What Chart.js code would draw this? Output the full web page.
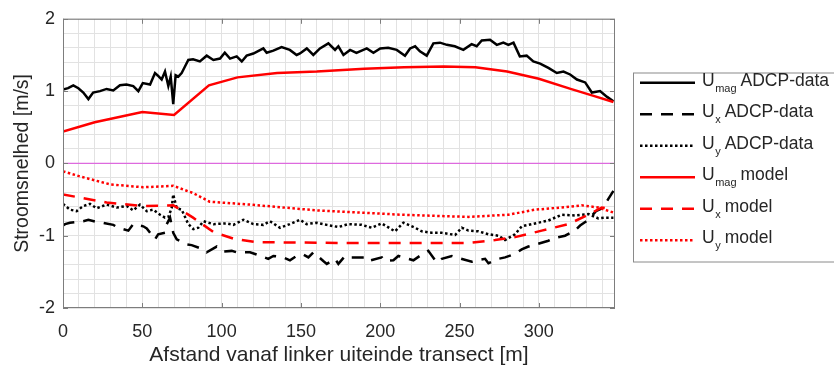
<!DOCTYPE html>
<html lang="nl">
<head>
    <meta charset="UTF-8">
    <title>Stroomsnelheden transect</title>
    <script src="https://cdn.jsdelivr.net/npm/chart.js"></script>
    <style>
        html, body {
            margin: 0;
            padding: 0;
            background: #ffffff;
        }
        #wrap {
            width: 834px;
            height: 369px;
        }
    </style>
</head>
<body>
    <div id="wrap">
        <canvas id="stroomChart" width="834" height="369"></canvas>
    </div>

    <script>
        // ADCP-metingen langs het transect (afstand in m, snelheid in m/s)
        const umagAdcpX = [0, 3.2, 6.5, 9.7, 12.8, 16, 19, 23.3, 27.5, 31.7, 35.9, 40, 44.3, 47.5, 50.3, 54.9,
            58, 60, 62.2, 64.3, 66.4, 67.9, 69.5, 71, 72.7, 74.8, 76.9, 79, 82, 86.3, 90.6, 94.8, 99, 102,
            105.3, 109.5, 112.7, 115.8, 120, 126.3, 128.4, 132.6, 137.8, 143, 147.3, 149.4, 153.7, 157.8,
            162, 167.3, 171.5, 173.6, 176.8, 181, 185, 191.5, 195.7, 200, 205, 210.4, 215.6, 218.8, 222,
            225, 229.3, 233.5, 237.7, 242, 247, 252.4, 257.6, 260.8, 264, 269.2, 273.5, 277.6, 280.8, 284,
            288, 292.3, 296.5, 300.8, 306, 311.3, 315.5, 319.7, 324, 329.2, 333.4, 338.6, 343, 347];
        const umagAdcp = [1.02, 1.04, 1.08, 1.04, 0.98, 0.89, 0.98, 1.0, 1.03, 1.01, 1.08, 1.09, 1.07, 1.0, 1.11, 1.09,
            1.25, 1.21, 1.16, 1.27, 1.07, 1.20, 0.82, 1.22, 1.2, 1.25, 1.34, 1.43, 1.44, 1.41, 1.49, 1.43, 1.45, 1.53,
            1.45, 1.48, 1.41, 1.49, 1.52, 1.59, 1.53, 1.56, 1.61, 1.57, 1.50, 1.52, 1.59, 1.50,
            1.59, 1.66, 1.57, 1.62, 1.50, 1.57, 1.53, 1.59, 1.53, 1.59, 1.60, 1.57, 1.49, 1.59, 1.62,
            1.55, 1.49, 1.66, 1.67, 1.64, 1.62, 1.57, 1.65, 1.62, 1.70, 1.71, 1.64, 1.67, 1.64, 1.67,
            1.48, 1.49, 1.41, 1.38, 1.32, 1.25, 1.27, 1.23, 1.16, 1.12, 0.98, 1.0, 0.92, 0.86];

        const uxAdcpX = [0, 1.3, 4.4, 12.8, 16, 21.2, 24.4, 31.7, 34.9, 41.2, 44.3, 50.6, 52.8, 58, 60, 64.3,
            65.4, 67.5, 69.5, 71.7, 78, 81.1, 88.5, 90.6, 96.9, 101.1, 106.4, 109.5, 117.9, 122, 129.4,
            132.6, 138.9, 143.1, 147.3, 151.5, 154.7, 157.8, 164.1, 166.3, 171.5, 173.6, 177.8, 182,
            190.4, 192.5, 201, 203, 208.3, 211.4, 217.7, 220.9, 228.3, 230.3, 235.6, 238.8, 245.1, 248.2,
            257.7, 260.8, 266.1, 268.2, 274.5, 278.7, 285, 289.2, 293.4, 306, 310.2, 316.5, 322.8, 326,
            331.2, 336, 340, 343, 347];
        const uxAdcp = [-0.86, -0.84, -0.82, -0.80, -0.78, -0.81, -0.82, -0.85, -0.89, -0.93, -0.84, -0.87, -0.90, -1.05, -0.98, -0.96,
            -0.84, -0.75, -0.96, -1.05, -1.12, -1.13, -1.19, -1.23, -1.15, -1.22, -1.21, -1.23, -1.23, -1.26, -1.32,
            -1.28, -1.30, -1.34, -1.28, -1.26, -1.30, -1.23, -1.35, -1.39, -1.32, -1.39, -1.28, -1.30,
            -1.30, -1.35, -1.30, -1.35, -1.34, -1.28, -1.32, -1.34, -1.23, -1.21, -1.37, -1.32, -1.28, -1.30,
            -1.36, -1.34, -1.32, -1.38, -1.32, -1.30, -1.25, -1.19, -1.15, -1.07, -1.03, -1.00, -0.93, -0.86,
            -0.78, -0.66, -0.62, -0.52, -0.38];

        const uyAdcpX = [0, 4.4, 8.6, 12.8, 17, 21.2, 27.5, 33.9, 40.2, 44.3, 48.5, 52.8, 56.9, 61.2, 64.3, 66.4,
            68.5, 69.5, 71.7, 74.8, 79, 82.2, 85.3, 88.5, 94.8, 103.2, 107.4, 113.7, 120, 126.3, 130.5,
            136.8, 143, 149.4, 153.6, 159.9, 166.3, 173.6, 179.9, 188.3, 194.6, 200.9, 209.3, 214.6,
            221.9, 226.2, 232.5, 238.8, 247.2, 251.4, 255.6, 261.9, 268.2, 274.5, 278.7, 285, 289.2,
            297.6, 306, 314.4, 322.8, 331.2, 337.5, 341.7, 347];
        const uyAdcp = [-0.56, -0.64, -0.66, -0.59, -0.56, -0.62, -0.57, -0.61, -0.59, -0.65, -0.57, -0.66, -0.64, -0.71, -0.75, -0.74,
            -0.62, -0.43, -0.62, -0.64, -0.84, -0.91, -0.89, -0.80, -0.84, -0.83, -0.85, -0.78, -0.84, -0.85, -0.80,
            -0.89, -0.84, -0.78, -0.84, -0.82, -0.85, -0.88, -0.84, -0.85, -0.89, -0.83, -0.94, -0.82,
            -0.89, -0.94, -0.96, -0.96, -0.99, -0.89, -0.93, -0.94, -0.98, -1.00, -1.06, -0.98, -0.87,
            -0.83, -0.79, -0.71, -0.72, -0.70, -0.76, -0.75, -0.75];

        // modelresultaten
        const modelX = [0, 20, 50, 70, 92, 110, 135, 160, 190, 215, 240, 260, 280, 300, 320, 335, 347];
        const umagModel = [0.44, 0.57, 0.71, 0.67, 1.08, 1.19, 1.25, 1.27, 1.31, 1.33, 1.34, 1.33, 1.27, 1.17, 1.03, 0.93, 0.85];

        const uxModelX = [0, 27.5, 50.6, 69.5, 82, 94.8, 107.4, 122, 175, 255.5, 272.4, 285, 301.8, 318.6, 331.2, 339.7, 347];
        const uxModel = [-0.43, -0.54, -0.59, -0.58, -0.75, -0.95, -1.04, -1.09, -1.10, -1.10, -1.06, -1.02, -0.93, -0.84, -0.71, -0.61, -0.64];

        const uyModelX = [0, 10.7, 29.6, 50.6, 69.5, 82, 92.5, 118, 160, 213.5, 255.5, 280.8, 297.6, 314.4, 327, 337.5, 347];
        const uyModel = [-0.11, -0.18, -0.29, -0.33, -0.31, -0.41, -0.53, -0.57, -0.65, -0.71, -0.74, -0.71, -0.64, -0.61, -0.58, -0.61, -0.68];

        const zeroLineX = [0, 348];
        const zeroLine = [0, 0];

        const xTickLabels = [0, 50, 100, 150, 200, 250, 300];
        const yTickLabels = [-2, -1, 0, 1, 2];

        const FONT = "'Liberation Sans', Arial, sans-serif";
        const TEXT = '#262626';

        function pts(xs, ys) {
            return xs.map((x, i) => ({ x: x, y: ys[i] }));
        }

        // kader, tickmarks aan binnenzijde en legenda met subscripts
        const framePlugin = {
            id: 'frame',
            afterDraw(chart) {
                const ctx = chart.ctx;
                const a = chart.chartArea;
                const xs = chart.scales.x;
                const ys = chart.scales.y;
                ctx.save();
                ctx.strokeStyle = '#7d7d7d';
                ctx.lineWidth = 1;
                ctx.strokeRect(a.left + 0.5, a.top + 0.5, a.right - a.left - 1, a.bottom - a.top - 1);
                ctx.beginPath();
                xTickLabels.forEach(v => {
                    const px = Math.round(xs.getPixelForValue(v)) + 0.5;
                    ctx.moveTo(px, a.top); ctx.lineTo(px, a.top + 5);
                    ctx.moveTo(px, a.bottom); ctx.lineTo(px, a.bottom - 5);
                });
                yTickLabels.forEach(v => {
                    const py = Math.round(ys.getPixelForValue(v)) + 0.5;
                    ctx.moveTo(a.left, py); ctx.lineTo(a.left + 5, py);
                    ctx.moveTo(a.right, py); ctx.lineTo(a.right - 5, py);
                });
                ctx.stroke();

                // legenda
                const boxL = 633, boxT = 72.5, boxB = 261.5;
                ctx.fillStyle = '#ffffff';
                ctx.fillRect(boxL, boxT, 840 - boxL, boxB - boxT);
                ctx.strokeStyle = '#8a8a8a';
                ctx.strokeRect(boxL + 0.5, boxT + 0.5, 840 - boxL, boxB - boxT);
                const items = chart.data.datasets.filter(d => d.label);
                items.forEach((d, i) => {
                    const y = 82.7 + i * 31.5;
                    ctx.strokeStyle = d.borderColor;
                    ctx.lineWidth = d.borderWidth;
                    ctx.setLineDash(d.borderDash || []);
                    ctx.beginPath();
                    ctx.moveTo(640, y);
                    ctx.lineTo(695, y);
                    ctx.stroke();
                    ctx.setLineDash([]);

                    const m = d.label.match(/^(\w)_(\w+) (.*)$/);
                    ctx.fillStyle = TEXT;
                    ctx.textBaseline = 'alphabetic';
                    ctx.textAlign = 'left';
                    let tx = 702;
                    ctx.font = '17.5px ' + FONT;
                    ctx.fillText(m[1], tx, y + 3);
                    tx += ctx.measureText(m[1]).width + 0.5;
                    ctx.font = '11px ' + FONT;
                    ctx.fillText(m[2], tx, y + 9);
                    tx += ctx.measureText(m[2]).width + 4;
                    ctx.font = '17.5px ' + FONT;
                    ctx.fillText(m[3], tx, y + 3);
                });
                ctx.restore();
            }
        };

        new Chart(document.getElementById('stroomChart'), {
            type: 'line',
            data: {
                datasets: [
                    { label: 'U_mag ADCP-data', data: pts(umagAdcpX, umagAdcp), borderColor: '#000000', borderWidth: 2.5, order: 6 },
                    { label: 'U_x ADCP-data', data: pts(uxAdcpX, uxAdcp), borderColor: '#000000', borderWidth: 2.5, borderDash: [12, 9], order: 5 },
                    { label: 'U_y ADCP-data', data: pts(uyAdcpX, uyAdcp), borderColor: '#000000', borderWidth: 2.5, borderDash: [2.5, 2.5], order: 4 },
                    { label: 'U_mag model', data: pts(modelX, umagModel), borderColor: '#ff0000', borderWidth: 2.5, order: 3 },
                    { label: 'U_x model', data: pts(uxModelX, uxModel), borderColor: '#ff0000', borderWidth: 2.5, borderDash: [12, 9], order: 2 },
                    { label: 'U_y model', data: pts(uyModelX, uyModel), borderColor: '#ff0000', borderWidth: 2.5, borderDash: [2.5, 2.5], order: 1 },
                    { label: '', data: pts(zeroLineX, zeroLine), borderColor: '#dd6ade', borderWidth: 1.2, order: 10 }
                ]
            },
            options: {
                responsive: false,
                animation: false,
                events: [],
                elements: {
                    point: { radius: 0 },
                    line: { tension: 0, borderCapStyle: 'butt' }
                },
                layout: { padding: { top: 15, right: 219, left: 0, bottom: 0 } },
                plugins: {
                    legend: { display: false },
                    tooltip: { enabled: false }
                },
                scales: {
                    x: {
                        type: 'linear',
                        min: 0,
                        max: 348,
                        afterFit: s => { s.height = 61; },
                        grid: { color: '#e2e2e2', drawTicks: false, lineWidth: 1 },
                        border: { display: false },
                        ticks: {
                            stepSize: 10,
                            autoSkip: false,
                            maxRotation: 0,
                            includeBounds: false,
                            padding: 13,
                            color: TEXT,
                            font: { family: FONT, size: 18 },
                            callback: v => (xTickLabels.includes(v) ? String(v) : '')
                        },
                        title: {
                            display: true,
                            text: 'Afstand vanaf linker uiteinde transect [m]',
                            color: TEXT,
                            font: { family: FONT, size: 21 },
                            padding: { top: 0, bottom: 1 }
                        }
                    },
                    y: {
                        min: -2,
                        max: 2,
                        afterFit: s => { s.width = 63; },
                        grid: { color: '#e2e2e2', drawTicks: false, lineWidth: 1 },
                        border: { display: false },
                        ticks: {
                            stepSize: 0.2,
                            autoSkip: false,
                            padding: 8,
                            color: TEXT,
                            font: { family: FONT, size: 18 },
                            callback: v => {
                                const r = Math.round(v);
                                return Math.abs(v - r) < 1e-6 && yTickLabels.includes(r) ? String(r) : '';
                            }
                        },
                        title: {
                            display: true,
                            text: 'Stroomsnelhed [m/s]',
                            color: TEXT,
                            font: { family: FONT, size: 19.5 },
                            padding: { top: 11, bottom: 0 }
                        }
                    }
                }
            },
            plugins: [framePlugin]
        });
    </script>
</body>
</html>
